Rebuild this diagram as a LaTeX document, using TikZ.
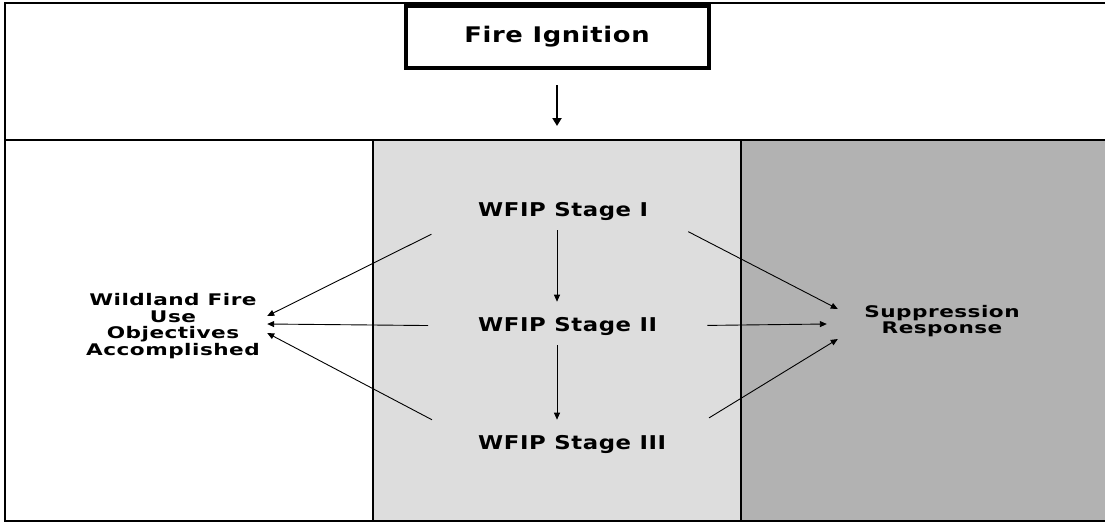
\documentclass[tikz,border=0pt]{standalone}
\usepackage{fontspec}
\newfontfamily\figfont{DejaVu Sans}[FakeStretch=1.2,LetterSpace=3]
\newfontfamily\outfont{DejaVu Sans}[FakeStretch=1.35,LetterSpace=3]
\usetikzlibrary{arrows.meta}

\definecolor{stagegray}{HTML}{DDDDDD}
\definecolor{suppgray}{HTML}{B2B2B2}

\tikzset{
  flow/.style={-{Triangle[length=7pt,width=6pt]}, line width=0.9pt},
  bigflow/.style={-{Triangle[length=8pt,width=9pt]}, line width=2pt},
  firebox/.style={draw, line width=4pt, fill=white, minimum width=303pt, minimum height=62pt,
    font=\figfont\bfseries\fontsize{21.5}{21.5}\selectfont},
  stagelabel/.style={anchor=west, inner sep=0pt, font=\figfont\bfseries\fontsize{19}{19}\selectfont},
  outcome/.style={align=center, inner sep=0pt, font=\outfont\bfseries\fontsize{16}{16.5}\selectfont},
}

\begin{document}
\begin{tikzpicture}[x=1pt, y=-1pt]

% page size
\useasboundingbox (0,0) rectangle (1105,522);

% panels
\fill[stagegray] (373,140) rectangle (741,521);
\fill[suppgray] (741,140) rectangle (1110,521);

% frame and dividers
\draw[line width=2pt] (5,3) rectangle (1110,521);
\draw[line width=2pt] (5,140) -- (1110,140);
\draw[line width=2pt] (373,140) -- (373,521);
\draw[line width=2pt] (741,140) -- (741,521);

% ignition
\node[firebox] (fire) at (557,37) {Fire Ignition};
\coordinate (fireend) at (557,126);
\draw[bigflow, shorten <=15pt] (fire) -- (fireend);

% WFIP stages
\node[stagelabel] (s1) at (478,211) {WFIP Stage I};
\node[stagelabel] (s2) at (478,326) {WFIP Stage II};
\node[stagelabel] (s3) at (478,444) {WFIP Stage III};

% stage to stage
\coordinate (spine) at (557,0);
\draw[flow, shorten <=10pt, shorten >=15pt] (s1.south -| spine) -- (s2.north -| spine);
\draw[flow, shorten <=10pt, shorten >=15pt] (s2.south -| spine) -- (s3.north -| spine);

% outcomes
\node[outcome, minimum width=188pt] (wfu) at (173,326) {Wildland Fire\\Use\\Objectives\\Accomplished};
\node[outcome, minimum width=230pt] (supp) at (942,321) {Suppression\\Response};

% stages to objectives accomplished
\draw[flow, shorten <=52pt] (s1.west) -- ([yshift=10pt]wfu.east);
\draw[flow, shorten <=50pt] (s2.west) -- ([yshift=2pt]wfu.east);
\draw[flow, shorten <=52pt] (s3.west) -- ([yshift=-7pt]wfu.east);

% stages to suppression
\draw[flow, shorten <=45pt] (s1.east) -- ([shift={(11pt,12pt)}]supp.west);
\draw[flow, shorten <=50pt] (s2.east) -- ([yshift=-3pt]supp.west);
\draw[flow, shorten <=50pt] (s3.east) -- ([shift={(11pt,-18pt)}]supp.west);

\end{tikzpicture}
\end{document}
